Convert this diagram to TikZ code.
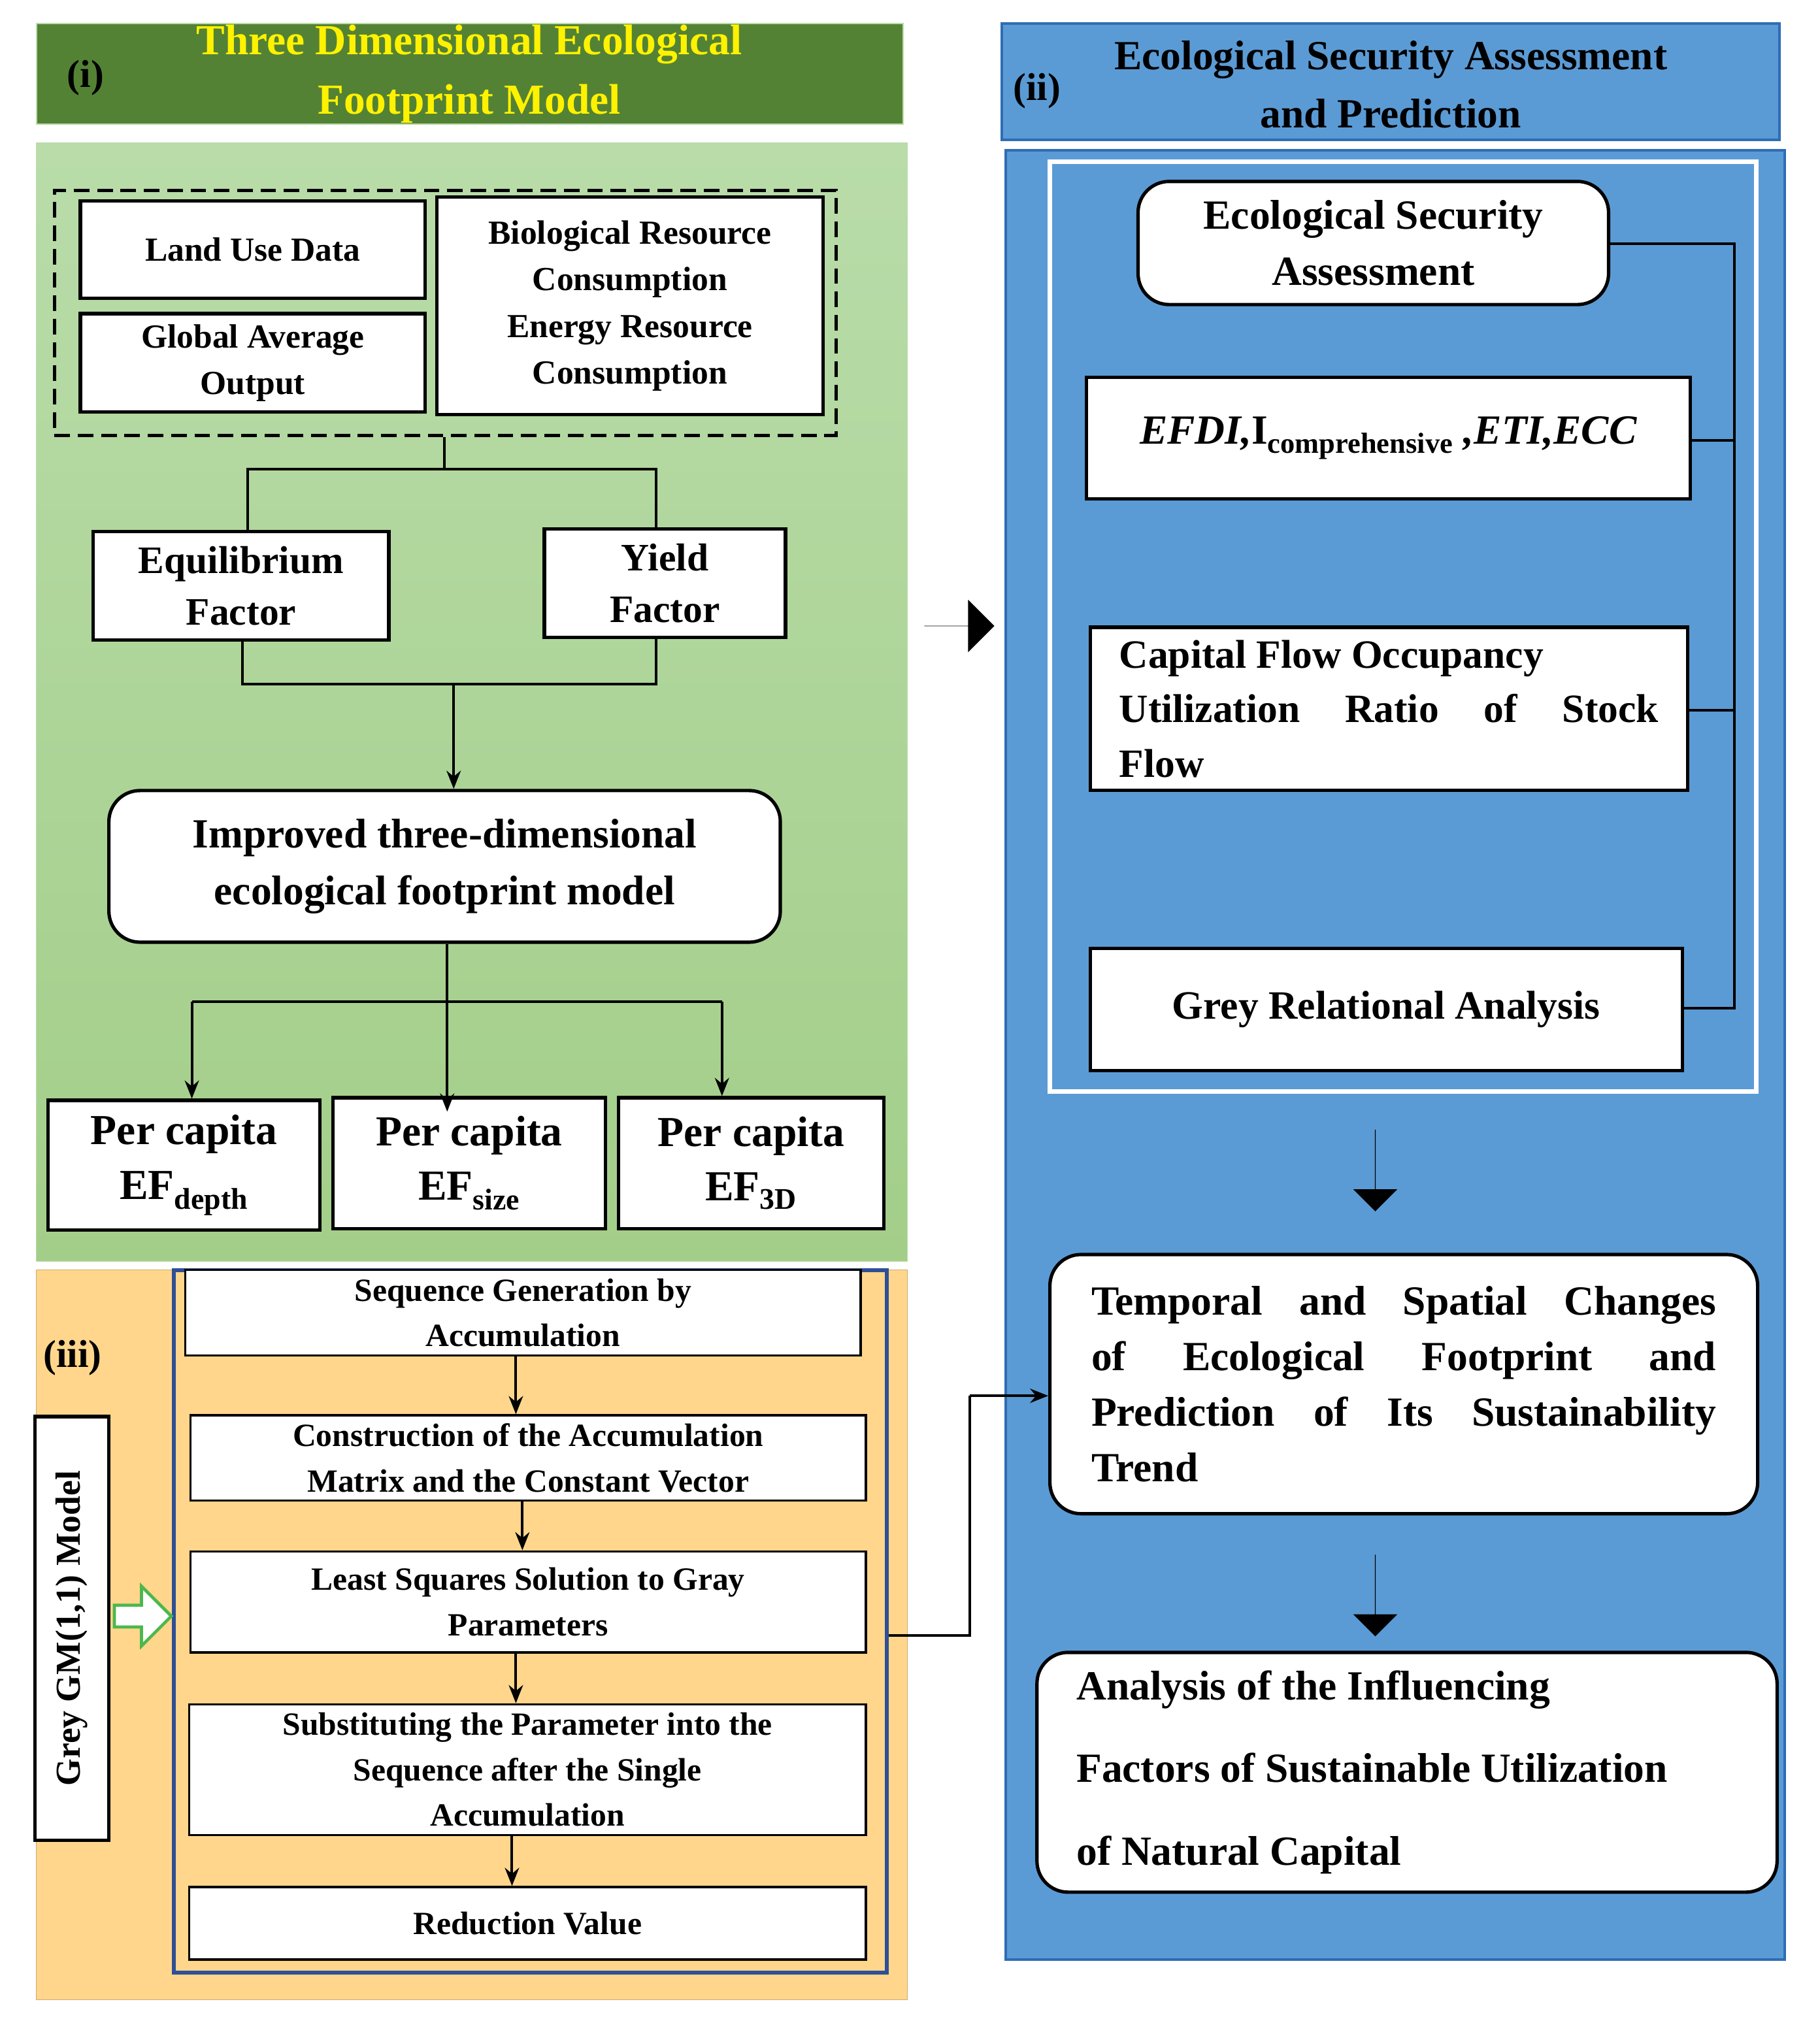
\documentclass[tikz,border=0pt]{standalone}
\usepackage{fontspec}
\setmainfont{Liberation Serif}
\usetikzlibrary{shapes.arrows,arrows.meta,shadings}
\definecolor{hgreen}{HTML}{548235}
\definecolor{gtop}{HTML}{B9DCA9}
\definecolor{gbot}{HTML}{A3CE89}
\definecolor{orng}{HTML}{FFD68C}
\definecolor{bluep}{HTML}{5B9BD5}
\definecolor{blueb}{HTML}{2E6DB4}
\definecolor{navy}{HTML}{2F4F96}
\begin{document}
\begin{tikzpicture}[x=1pt,y=-1pt,
  box/.style={draw=black,line width=2.6pt,fill=white,inner sep=2pt,align=center,font=\bfseries\fontsize{26}{36}\selectfont},
  rbox/.style={box,rounded corners=24pt},
  stp/.style={draw=black,line width=1.6pt,fill=white,inner sep=1pt,align=center,font=\bfseries\fontsize{25}{35}\selectfont},
  pc/.style={box,font=\bfseries\fontsize{33}{42}\selectfont},
  con/.style={line width=2pt,draw=black},
  arr/.style={con,-{Stealth[length=14pt,width=11pt]}},
  big/.style={single arrow,fill=black,draw=none,single arrow head extend=14pt,inner sep=0pt},
]
\useasboundingbox (0,0) rectangle (1404,1571);
% ---------- panel (i)
\node[fill=hgreen,draw=gtop,line width=1pt,minimum width=669,minimum height=78,inner sep=0] (hi) at (362.5,57) {};
\node[text=yellow,font=\bfseries\fontsize{33}{46}\selectfont,align=center] (hit) at (362,57) {Three Dimensional Ecological\\Footprint Model};
\node[font=\bfseries\fontsize{30}{30}\selectfont] (ilab) at (66,60) {(i)};
\node[top color=gtop,bottom color=gbot,draw=gtop,minimum width=672,minimum height=863,inner sep=0] (pi) at (364,541.5) {};
\node[draw=black,dashed,line width=2.4pt,dash pattern=on 12pt off 6pt,minimum width=603,minimum height=189,inner sep=0] (dash) at (343.5,241.5) {};
\node[box,minimum width=266,minimum height=75] (land) at (195,192.5) {Land Use Data};
\node[box,minimum width=266,minimum height=76] (glob) at (195,280) {Global Average\\Output};
\node[box,minimum width=298,minimum height=168] (bio) at (486,236) {Biological Resource\\Consumption\\Energy Resource\\Consumption};
\node[box,minimum width=228,minimum height=84,font=\bfseries\fontsize{30}{40}\selectfont] (equi) at (186,452) {Equilibrium\\Factor};
\node[box,minimum width=186,minimum height=84,font=\bfseries\fontsize{30}{40}\selectfont] (yield) at (513,450) {Yield\\Factor};
\node[rbox,minimum width=518,minimum height=117,font=\bfseries\fontsize{32}{44}\selectfont] (impr) at (343,668.5) {Improved three-dimensional\\ecological footprint model};
\node[pc,minimum width=210,minimum height=100] (pc1) at (142,899) {Per capita\\EF\textsubscript{depth}};
\node[pc,minimum width=210,minimum height=101] (pc2) at (362,897.5) {Per capita\\EF\textsubscript{size}};
\node[pc,minimum width=205,minimum height=101] (pc3) at (579.5,897.5) {Per capita\\EF\textsubscript{3D}};
\coordinate (d0) at (343,362); \coordinate (dl) at (191,362); \coordinate (dr) at (506,362);
\draw[con] (dash.south -| d0) -- (d0);
\draw[con] (equi.north -| dl) -- (dl) -- (dr) -- (yield.north -| dr);
\coordinate (m) at (350,528); \coordinate (ml) at (187,528); \coordinate (mr) at (506,528);
\draw[con] (equi.south -| ml) -- (ml) -- (mr) -- (yield.south -| mr);
\draw[arr] (m) -- (impr.north -| m);
\coordinate (t0) at (345,773); \coordinate (tl) at (148,773); \coordinate (tr) at (557,773);
\draw[con] (impr.south -| t0) -- (t0);
\draw[con] (tl) -- (tr);
\draw[arr] (tl) -- (pc1.north -| tl);
\draw[arr] (t0) -- ([yshift=-12pt]pc2.north -| t0);
\draw[arr] (tr) -- (pc3.north -| tr);
% ---------- panel (iii)
\node[fill=orng,draw=orng!80!black,line width=0.6pt,minimum width=672,minimum height=563,inner sep=0] (piii) at (364,1261.5) {};
\node[font=\bfseries\fontsize{30}{30}\selectfont] (iiilab) at (56,1048) {(iii)};
\node[draw=navy,line width=3pt,minimum width=550,minimum height=542,inner sep=0] (frm) at (409,1251) {};
\node[stp,minimum width=521,minimum height=66] (s1) at (403.5,1013) {Sequence Generation by\\Accumulation};
\node[stp,minimum width=521,minimum height=66] (s2) at (407.5,1125) {Construction of the Accumulation\\Matrix and the Constant Vector};
\node[stp,minimum width=521,minimum height=78] (s3) at (407.5,1236) {Least Squares Solution to Gray\\Parameters};
\node[stp,minimum width=522,minimum height=101] (s4) at (407,1365.5) {Substituting the Parameter into the\\Sequence after the Single\\Accumulation};
\node[stp,minimum width=522,minimum height=56] (s5) at (407,1484) {Reduction Value};
\coordinate (a1) at (398,0); \coordinate (a2) at (403,0); \coordinate (a3) at (398,0); \coordinate (a4) at (395,0);
\draw[arr] (s1.south -| a1) -- (s2.north -| a1);
\draw[arr] (s2.south -| a2) -- (s3.north -| a2);
\draw[arr] (s3.south -| a3) -- (s4.north -| a3);
\draw[arr] (s4.south -| a4) -- (s5.north -| a4);
\node[box,rotate=90,minimum width=327,minimum height=57,inner sep=0,font=\bfseries\fontsize{27}{27}\selectfont] (grey) at (55.5,1256.5) {Grey GM(1,1) Model};
\node[single arrow,draw=green!60!black!70,fill=white,line width=2.4pt,minimum width=46pt,single arrow head extend=9pt,minimum height=44pt,inner sep=4pt] (hol) at (106,1247) {};
\node[big,minimum width=40pt,single arrow head extend=20pt,minimum height=54pt] (bigr) at (740,483) {};
% ---------- panel (ii)
\node[fill=bluep,draw=blueb,line width=2pt,minimum width=600,minimum height=90,inner sep=0] (hii) at (1073,63) {};
\node[font=\bfseries\fontsize{32}{45}\selectfont,align=center] (hiit) at (1073,65) {Ecological Security Assessment\\and Prediction};
\node[font=\bfseries\fontsize{30}{30}\selectfont] (iilab) at (800,70) {(ii)};
\node[fill=bluep,draw=blueb,line width=2pt,minimum width=601,minimum height=1396,inner sep=0] (pii) at (1076.5,814) {};
\node[draw=white,line width=3.5pt,minimum width=545,minimum height=717,inner sep=0] (wf) at (1082.5,483.5) {};
\node[rbox,minimum width=363,minimum height=95,font=\bfseries\fontsize{32}{43}\selectfont] (esa) at (1059.5,187.5) {Ecological Security\\Assessment};
\node[box,minimum width=466,minimum height=94,font=\bfseries\itshape\fontsize{32}{40}\selectfont] (efdi) at (1071,338) {EFDI,{\upshape I\textsubscript{comprehensive}} ,ETI,ECC};
\node[box,minimum width=461,minimum height=126,align=left,font=\bfseries\fontsize{31}{42}\selectfont] (cap) at (1071.5,547) {\makebox[416pt][l]{Capital Flow Occupancy}\\\makebox[416pt][s]{Utilization Ratio of Stock}\\Flow};
\node[box,minimum width=457,minimum height=94,font=\bfseries\fontsize{31}{40}\selectfont] (gra) at (1069.5,779) {Grey Relational Analysis};
\coordinate (b1) at (1338,188); \coordinate (b2) at (1338,340); \coordinate (b3) at (1338,548); \coordinate (b4) at (1338,778);
\draw[con] (esa.east |- b1) -- (b1) -- (b4) -- (gra.east |- b4);
\draw[con] (efdi.east |- b2) -- (b2);
\draw[con] (cap.east |- b3) -- (b3);
\node[big,rotate=-90,minimum width=34pt,single arrow head extend=12pt,minimum height=63pt] (d1) at (1061,903) {};
\node[big,rotate=-90,minimum width=34pt,single arrow head extend=12pt,minimum height=63pt] (d2) at (1061,1231) {};
\node[rbox,minimum width=546,minimum height=200,align=left,font=\bfseries\fontsize{32}{43}\selectfont] (temp) at (1083,1068) {\makebox[482pt][s]{Temporal and Spatial Changes}\\\makebox[482pt][s]{of Ecological Footprint and}\\\makebox[482pt][s]{Prediction of Its Sustainability}\\\makebox[482pt][l]{Trend}};
\node[rbox,minimum width=571,minimum height=185,align=left,font=\bfseries\fontsize{32}{64}\selectfont] (anal) at (1085.5,1367.5) {\makebox[510pt][l]{Analysis of the Influencing}\\Factors of Sustainable Utilization\\of Natural Capital};
\coordinate (c1) at (748,1262); \coordinate (c2) at (748,1077);
\draw[con] (frm.east |- c1) -- (c1) -- (c2);
\draw[arr] (c2) -- (temp.west |- c2);
\end{tikzpicture}
\end{document}
